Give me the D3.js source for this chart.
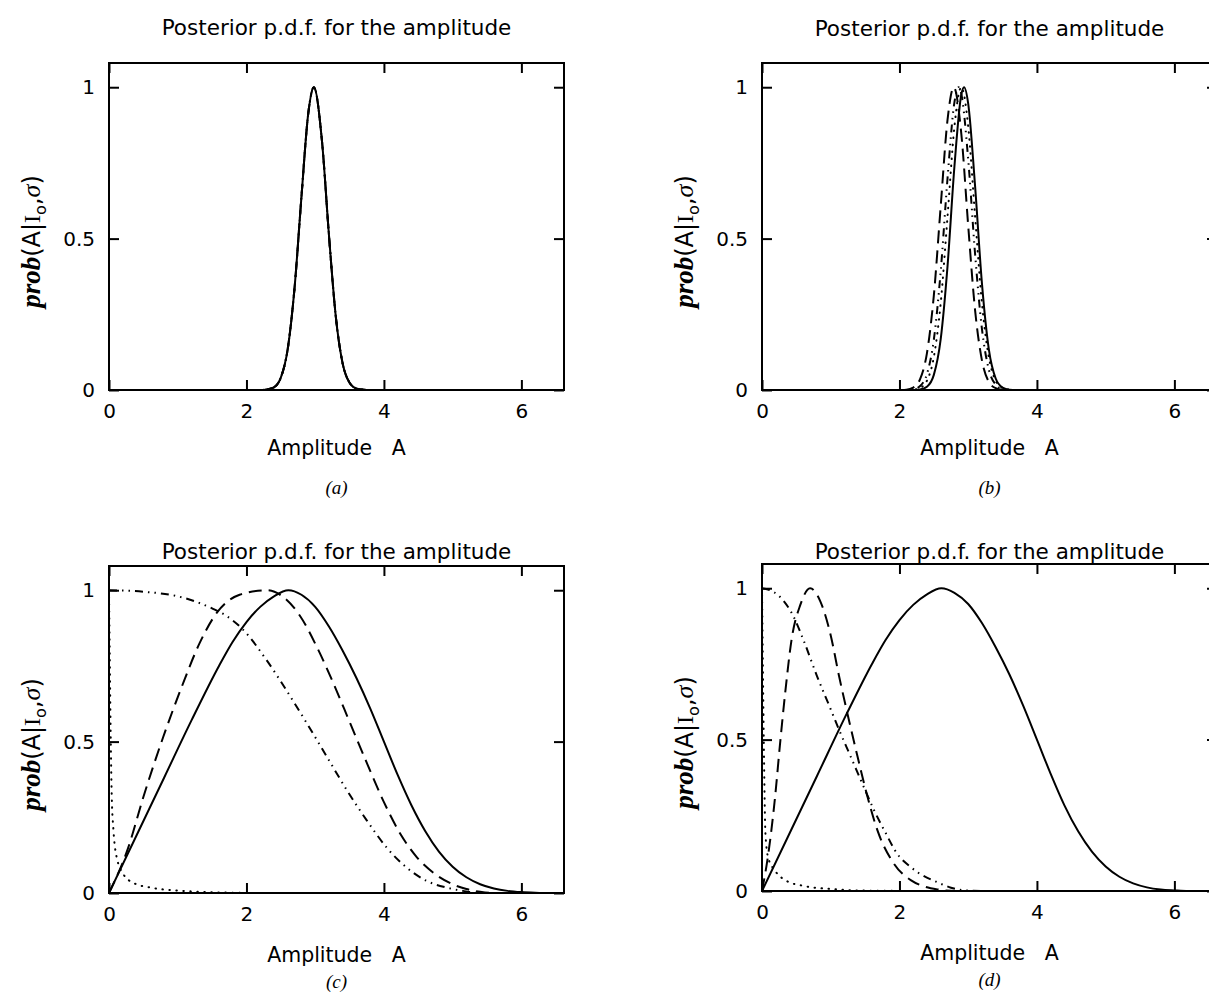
<!DOCTYPE html>
<html>
<head>
<meta charset="utf-8">
<script src="https://cdn.jsdelivr.net/npm/d3@7"></script>
<style>
  body { margin: 0; background: #fff; }
  svg { display: block; }
  text { font-family: "DejaVu Sans", sans-serif; fill: #000; }
</style>
</head>
<body>
<svg id="fig" width="1209" height="992"></svg>
<script>
// Posterior p.d.f. for the amplitude — 4 panels (a)-(d)
// each series: [A, prob]

const xTicks = [0, 2, 4, 6];
const yTicks = [0, 0.5, 1];
const yTickLabels = ["0", "0.5", "1"];
const captions = ["(a)", "(b)", "(c)", "(d)"];

// (a) all four curves lie on top of each other
const aPeak = [[0,0],[2.2,0],[2.3,0.002],[2.4,0.009],[2.5,0.041],[2.6,0.135],[2.7,0.338],[2.8,0.638],[2.9,0.915],[2.98,1],[3.1,0.819],[3.2,0.512],[3.3,0.242],[3.4,0.087],[3.5,0.024],[3.6,0.005],[3.7,0.001],[3.8,0],[6.62,0]];

// (b)
const bSolid = [[0,0],[2.2,0],[2.3,0.002],[2.4,0.011],[2.5,0.05],[2.6,0.168],[2.7,0.411],[2.8,0.739],[2.9,0.976],[2.94,1],[3.0,0.946],[3.1,0.674],[3.2,0.352],[3.3,0.135],[3.4,0.038],[3.5,0.008],[3.6,0.001],[3.7,0],[6.62,0]];
const bDashed = [[0,0],[2.0,0],[2.1,0.001],[2.2,0.008],[2.3,0.036],[2.4,0.122],[2.5,0.312],[2.6,0.607],[2.7,0.894],[2.79,1],[2.9,0.846],[3.0,0.543],[3.1,0.264],[3.2,0.098],[3.3,0.027],[3.4,0.006],[3.5,0.001],[3.6,0],[6.62,0]];
const bDashDot = [[0,0],[2.1,0],[2.2,0.002],[2.3,0.013],[2.4,0.053],[2.5,0.166],[2.6,0.392],[2.7,0.701],[2.8,0.951],[2.86,1],[2.9,0.978],[3.0,0.762],[3.1,0.45],[3.2,0.202],[3.3,0.068],[3.4,0.018],[3.5,0.003],[3.6,0],[6.62,0]];
const bDotted = [[0,0],[2.1,0],[2.2,0.001],[2.3,0.007],[2.4,0.031],[2.5,0.109],[2.6,0.287],[2.7,0.575],[2.8,0.871],[2.9,1],[3.0,0.871],[3.1,0.575],[3.2,0.287],[3.3,0.109],[3.4,0.031],[3.5,0.007],[3.6,0.001],[3.7,0],[6.62,0]];

// (c)
const cSolid = [[0,0],[0.4,0.19],[0.8,0.38],[1.2,0.57],[1.6,0.75],[1.8,0.83],[2.0,0.895],[2.2,0.945],[2.4,0.98],[2.61,1],[2.8,0.985],[3.0,0.945],[3.2,0.88],[3.4,0.8],[3.6,0.71],[3.8,0.61],[4.0,0.5],[4.2,0.39],[4.4,0.29],[4.6,0.205],[4.8,0.137],[5.0,0.087],[5.2,0.052],[5.4,0.029],[5.6,0.015],[5.8,0.007],[6.0,0.003],[6.2,0.001],[6.4,0],[6.62,0]];
const cDashed = [[0,0],[0.28,0.15],[0.5,0.317],[0.79,0.516],[1.06,0.682],[1.32,0.826],[1.57,0.926],[1.9,0.985],[2.3,1],[2.55,0.975],[2.78,0.915],[3.03,0.81],[3.27,0.69],[3.51,0.56],[3.76,0.425],[4.0,0.3],[4.24,0.195],[4.48,0.118],[4.73,0.065],[4.97,0.032],[5.2,0.013],[5.4,0.004],[5.6,0],[6.62,0]];
const cDashDot = [[0,1],[0.5,0.995],[1.0,0.98],[1.5,0.94],[1.71,0.915],[1.95,0.87],[2.29,0.77],[2.58,0.67],[2.88,0.56],[3.17,0.45],[3.46,0.34],[3.75,0.24],[4.04,0.15],[4.33,0.084],[4.62,0.04],[4.91,0.018],[5.15,0.007],[5.4,0],[6.62,0]];
const cDotted = [[0,1],[0.01,0.8],[0.02,0.6],[0.04,0.32],[0.064,0.21],[0.11,0.12],[0.21,0.062],[0.35,0.034],[0.6,0.018],[1.08,0.007],[1.6,0.002],[2.5,0],[6.62,0]];

// (d)
const dSolid = [[0,0],[0.4,0.19],[0.8,0.38],[1.24,0.589],[1.6,0.75],[1.8,0.83],[2.0,0.895],[2.2,0.945],[2.4,0.98],[2.61,1],[2.8,0.985],[3.0,0.948],[3.2,0.885],[3.4,0.805],[3.6,0.715],[3.8,0.612],[4.0,0.5],[4.2,0.387],[4.4,0.283],[4.6,0.197],[4.8,0.13],[5.0,0.081],[5.2,0.047],[5.4,0.025],[5.6,0.012],[5.8,0.005],[6.0,0.002],[6.2,0],[6.62,0]];
const dDashed = [[0,0],[0.09,0.12],[0.19,0.31],[0.26,0.48],[0.34,0.66],[0.43,0.83],[0.556,0.944],[0.7,1],[0.85,0.956],[1.0,0.844],[1.12,0.711],[1.24,0.589],[1.39,0.444],[1.51,0.333],[1.68,0.2],[1.92,0.09],[2.17,0.035],[2.36,0.015],[2.56,0.005],[2.8,0],[6.62,0]];
const dDashDot = [[0,1],[0.1,0.995],[0.26,0.972],[0.46,0.906],[0.605,0.828],[0.8,0.71],[1.0,0.6],[1.12,0.533],[1.29,0.444],[1.48,0.344],[1.63,0.267],[1.78,0.2],[1.97,0.122],[2.17,0.078],[2.27,0.061],[2.56,0.028],[2.75,0.011],[2.95,0.002],[3.2,0],[6.62,0]];
const dDotted = [[0,1],[0.01,0.8],[0.02,0.6],[0.03,0.43],[0.05,0.19],[0.09,0.11],[0.19,0.067],[0.36,0.033],[0.6,0.017],[1.04,0.006],[1.6,0.001],[2.5,0],[6.62,0]];

const panelSeries = [
  [aPeak, aPeak, aPeak, aPeak],
  [bSolid, bDashed, bDashDot, bDotted],
  [cSolid, cDashed, cDashDot, cDotted],
  [dSolid, dDashed, dDashDot, dDotted]
];

// line styles in order solid, dashed, dash-dot-dot, dotted
const dashes = [null, "13,7", "8,5,1.5,5,1.5,5", "0.5,6.5"];
const caps = ["butt", "butt", "butt", "round"];

// panel frames: left, top, title baseline, x-label baseline, caption baseline (page px)
const W = 455, H = 327;
const pos = [
  [109, 63, 35, 455, 494],
  [762, 63, 36, 455, 494],
  [109, 566, 559, 962, 988],
  [762, 564, 559, 960, 986]
];

const svg = d3.select("#fig");

panelSeries.forEach((series, i) => {
  const [left, top, titleY, labelY, capY] = pos[i];
  const g = svg.append("g").attr("transform", `translate(${left},${top})`);

  const x = d3.scaleLinear().domain([0, 6.62]).range([0, W]);
  const y = d3.scaleLinear().domain([0, 1.08]).range([H, 0]);

  const clipId = "clip" + i;
  g.append("clipPath").attr("id", clipId)
    .append("rect").attr("x", 0).attr("y", -2).attr("width", W).attr("height", H + 2);

  const line = d3.line()
    .x(d => x(d[0]))
    .y(d => y(d[1]))
    .curve(d3.curveMonotoneX);

  series.forEach((s, k) => {
    g.append("path")
      .datum(s)
      .attr("clip-path", `url(#${clipId})`)
      .attr("fill", "none")
      .attr("stroke", "#000")
      .attr("stroke-width", 2)
      .attr("stroke-linecap", caps[k])
      .attr("stroke-dasharray", dashes[k])
      .attr("d", line);
  });

  // frame
  g.append("rect")
    .attr("width", W).attr("height", H)
    .attr("fill", "none").attr("stroke", "#000").attr("stroke-width", 2);

  // inward ticks on all four sides
  const tl = 10;
  g.append("g").attr("transform", `translate(0,${H})`)
    .call(d3.axisBottom(x).tickValues(xTicks).tickSizeInner(-tl).tickSizeOuter(0).tickPadding(14).tickFormat(d3.format("d")));
  g.append("g")
    .call(d3.axisTop(x).tickValues(xTicks).tickSizeInner(-tl).tickSizeOuter(0).tickFormat(""));
  g.append("g")
    .call(d3.axisLeft(y).tickValues(yTicks).tickSizeInner(-tl).tickSizeOuter(0).tickPadding(14)
      .tickFormat((d, j) => yTickLabels[j]));
  g.append("g").attr("transform", `translate(${W},0)`)
    .call(d3.axisRight(y).tickValues(yTicks).tickSizeInner(-tl).tickSizeOuter(0).tickFormat(""));

  g.selectAll(".domain").remove();
  g.selectAll(".tick line").attr("stroke", "#000").attr("stroke-width", 2);
  g.selectAll(".tick text")
    .style("font-family", "'DejaVu Sans', sans-serif")
    .style("font-size", "20px")
    .attr("fill", "#000");

  // title
  svg.append("text")
    .attr("x", left + W / 2).attr("y", titleY)
    .attr("text-anchor", "middle")
    .style("font-size", "21.5px")
    .text("Posterior p.d.f. for the amplitude");

  // x label
  svg.append("text")
    .attr("x", left + W / 2).attr("y", labelY)
    .attr("text-anchor", "middle")
    .style("font-size", "20.5px")
    .attr("xml:space", "preserve")
    .text("Amplitude   A");

  // caption
  svg.append("text")
    .attr("x", left + W / 2).attr("y", capY)
    .attr("text-anchor", "middle")
    .style("font-family", "'Liberation Serif', serif")
    .style("font-style", "italic")
    .style("font-size", "19px")
    .text(captions[i]);

  // y label prob(A|I_o,σ)
  const yl = g.append("text")
    .attr("transform", `translate(-69,${H / 2 + 15}) rotate(-90)`)
    .attr("text-anchor", "middle")
    .style("font-size", "24px");
  yl.append("tspan")
    .style("font-family", "'Liberation Serif', serif")
    .style("font-style", "italic")
    .style("font-weight", "bold")
    .style("font-size", "27px")
    .text("prob");
  yl.append("tspan").text("(A|");
  yl.append("tspan").style("font-family", "'Liberation Serif', serif").text("I");
  yl.append("tspan").attr("dy", 6).style("font-size", "16px").text("o");
  yl.append("tspan").attr("dy", -6).text(",");
  yl.append("tspan")
    .style("font-family", "'Liberation Serif', serif")
    .style("font-style", "italic")
    .style("font-size", "26px")
    .text("σ");
  yl.append("tspan").text(")");
});
</script>
</body>
</html>
